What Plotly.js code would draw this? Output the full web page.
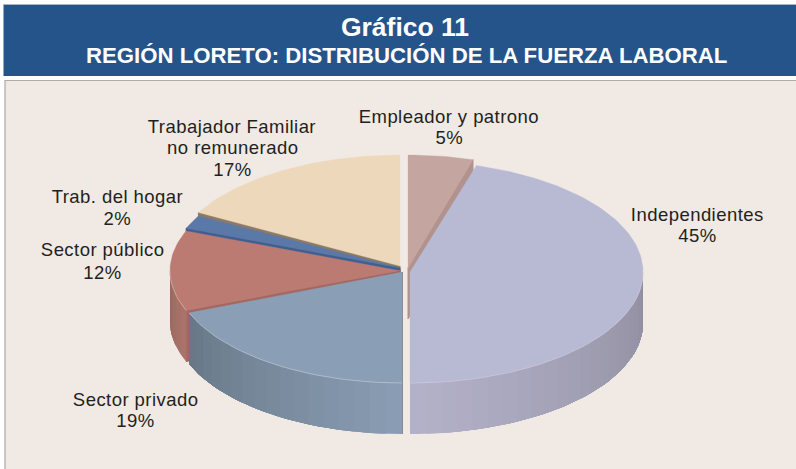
<!DOCTYPE html>
<html>
<head>
<meta charset="utf-8">
<script src="https://cdn.plot.ly/plotly-3.0.1.min.js"></script>
<style>html,body{margin:0;padding:0;background:#fff}#chart{width:796px;height:469px}</style>
</head>
<body>
<div id="chart"></div>
<script>
// Data, clockwise from twelve o'clock
const categories = ['Empleador y patrono','Independientes','Sector privado','Sector público','Trab. del hogar','Trabajador Familiar<br>no remunerado'];
const shares = [4.6,45.4,19,12,2,17];

// Styling
const faceColors = ['#c4a5a0','#b8b9d3','#8a9fb5','#bb7b73','#5b79a8','#edd8bb'];
const wallNear   = ['#b2928d','#b4b2ca','#8a9db4','#ab756d','#3f5f90','#c4b299'];
const wallFar    = ['#b2928d','#908d9e','#677786','#98645c','#3f5f90','#c4b299'];
const cutColors  = ['#b2928d',null,'#666e78','#a3675f','#3f5f90','#8b7a66'];
const rimColors  = [null,'#c6c8dc','#b4c2d2','#d8a8a0',null,null];
const centerX = [408,410,402,400,400,400];
const centerY = [268,272,272,270.7,268,266];
const radiusX = [228,233,229,230,230,230];
const radiusY = [113,111,111,108,108,111];
const depth = 51;
const labelX = [449,697,135,102,117,232];
const labelLineY = [[116,137],[214,235],[399,420],[249,272],[196,218],[126,147,169]];
const drawOrder = [5,4,3,2,0,1];
const textColor = '#231f20';
const labelFont = 'Liberation Sans, Arial, sans-serif';
const titleFont = 'Liberation Sans, Arial, sans-serif';

function mix(a,b,t){
  const p=c=>[1,3,5].map(i=>parseInt(c.substr(i,2),16));
  const A=p(a),B=p(b);
  return 'rgb('+A.map((v,i)=>Math.round(v+(B[i]-v)*t)).join(',')+')';
}
const rad=d=>d*Math.PI/180;
const total=shares.reduce((a,b)=>a+b,0);
let run=0;
const spans=shares.map(v=>{const s=run;run+=v;return [s/total*360,run/total*360];});
const rim=(i,a)=>[centerX[i]+radiusX[i]*Math.sin(rad(a)),centerY[i]-radiusY[i]*Math.cos(rad(a))];

function poly(pts,color,name,w){
  const xs=pts.map(p=>p[0]),ys=pts.map(p=>p[1]);
  xs.push(xs[0]);ys.push(ys[0]);
  return {type:'scatter',mode:'lines',x:xs,y:ys,fill:'toself',fillcolor:color,
    line:{color:color,width:w===undefined?0:w},hoverinfo:'skip',showlegend:false,name:name};
}

const traces=[];
drawOrder.forEach(i=>{
  const [a0,a1]=spans[i];
  const nm=categories[i].replace('<br>',' ');
  // cut face
  if(cutColors[i]){
    const edge=(a0+a1)/2<180?a1:a0;
    const r=rim(i,edge);
    traces.push(poly([[centerX[i],centerY[i]],r,[r[0],r[1]+depth],[centerX[i],centerY[i]+depth]],cutColors[i],nm,1));
  }
  // outer wall: each step paints from its angle to the far end, so no seams show
  const v0=Math.max(a0,90),v1=Math.min(a1,270);
  if(v1>v0){
    const near=a0>=180?v0:v1,far=a0>=180?v1:v0;
    const n=Math.max(3,Math.round((v1-v0)/4));
    for(let k=0;k<n;k++){
      const s=near+(far-near)*k/n;
      const t=(k+0.5)/n;
      const m=Math.max(3,Math.ceil(Math.abs(far-s)/2));
      const pts=[];
      for(let j=0;j<=m;j++)pts.push(rim(i,s+(far-s)*j/m));
      for(let j=m;j>=0;j--){const r=rim(i,s+(far-s)*j/m);pts.push([r[0],r[1]+depth]);}
      traces.push(poly(pts,mix(wallNear[i],wallFar[i],t),nm));
    }
  }
  // top face
  const top=[[centerX[i],centerY[i]]];
  const steps=Math.max(6,Math.ceil((a1-a0)/1.5));
  for(let k=0;k<=steps;k++)top.push(rim(i,a0+(a1-a0)*k/steps));
  traces.push(poly(top,faceColors[i],nm,0.3));
  // soft highlight along the front rim
  if(rimColors[i]&&v1>v0){
    const xs=[],ys=[],m=Math.ceil((v1-v0)/2);
    for(let j=0;j<=m;j++){const r=rim(i,v0+(v1-v0)*j/m);xs.push(r[0]);ys.push(r[1]);}
    traces.push({type:'scatter',mode:'lines',x:xs,y:ys,line:{color:rimColors[i],width:0.8},hoverinfo:'skip',showlegend:false,name:nm});
  }
});

const annotations=[];
categories.forEach((c,i)=>{
  const lines=c.split('<br>').concat([Math.round(shares[i])+'%']);
  lines.forEach((t,k)=>annotations.push({
    x:labelX[i],y:labelLineY[i][k],xref:'x',yref:'y',showarrow:false,align:'center',
    xanchor:'center',yanchor:'middle',text:t,
    font:{family:labelFont,size:18.5,color:textColor}
  }));
});
annotations.push({
  xref:'x',yref:'y',x:406.5,y:55,showarrow:false,xanchor:'center',yanchor:'middle',
  text:'<b>REGIÓN LORETO: DISTRIBUCIÓN DE LA FUERZA LABORAL</b>',
  font:{family:titleFont,size:22.2,color:'#ffffff'}
});

const layout={
  width:796,height:469,margin:{l:0,r:0,t:0,b:0},
  paper_bgcolor:'#ffffff',plot_bgcolor:'#ffffff',showlegend:false,
  title:{text:'<b>Gráfico 11</b>',x:405/796,xanchor:'center',xref:'paper',y:1-27/469,yanchor:'middle',yref:'paper',
    font:{family:titleFont,size:26.5,color:'#ffffff'}},
  xaxis:{range:[0,796],visible:false,fixedrange:true},
  yaxis:{range:[469,0],visible:false,fixedrange:true},
  shapes:[
    {type:'rect',xref:'x',yref:'y',x0:3.5,x1:800,y0:4.5,y1:76,fillcolor:'#24548a',line:{width:0},layer:'below'},
    {type:'line',xref:'x',yref:'y',x0:3.5,x1:800,y0:4.5,y1:4.5,line:{color:'#a9b4c2',width:1},layer:'below'},
    {type:'rect',xref:'x',yref:'y',x0:5,x1:800,y0:80.5,y1:475,fillcolor:'#f1e9e3',line:{color:'#aeaba8',width:1.2},layer:'below'}
  ],
  annotations:annotations
};
Plotly.newPlot('chart',traces,layout,{displayModeBar:false,staticPlot:true}).then(gd=>{
  gd.querySelectorAll('.annotation-text').forEach(t=>{
    if(t.textContent.indexOf('REGIÓN')<0) t.style.letterSpacing='0.45px';
  });
});
</script>
</body>
</html>
